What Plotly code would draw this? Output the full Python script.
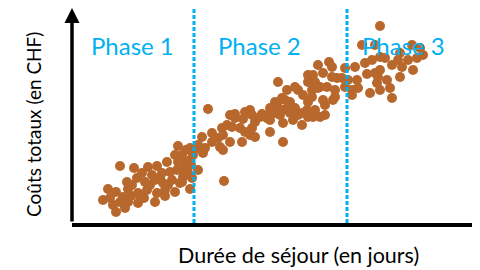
import plotly.graph_objects as go

# Durée de séjour (jours) and Coûts totaux (kCHF)
duree = [
    # Phase 1
    3.1, 3.6, 4.1, 4.4, 4.4, 4.8, 4.8, 5.1, 5.5, 5.6, 5.6, 6.2, 6.5, 6.6, 6.6, 7.0,
    7.3, 7.5, 7.6, 8.0, 8.3, 8.3, 8.5, 8.5, 9.0, 9.1, 9.3, 9.5, 9.8, 10.0, 10.3, 10.3,
    10.6, 10.8, 11.0, 11.1, 11.3, 11.8, 11.6, 11.8, 11.8, 11.0, 11.0, 12.1,
    6.0, 7.8, 8.8, 9.6, 10.5, 11.3, 6.8, 5.3, 3.8, 5.9, 7.2, 9.3, 10.6, 11.4, 11.9, 12.0,
    # Phase 2
    12.5, 12.6, 12.6, 13.0, 13.1, 13.3, 13.6, 14.0, 14.0, 14.6, 14.8, 15.0, 15.1, 15.1,
    15.2, 15.5, 15.8, 15.8, 16.0, 16.3, 16.3, 16.8, 17.0, 17.1, 17.3, 17.3, 17.6, 17.8,
    17.8, 18.0, 18.0, 18.3, 18.3, 18.8, 19.0, 19.5, 19.8, 19.8, 19.8, 19.8, 20.3, 20.3,
    20.5, 20.6, 20.8, 21.0, 21.1, 21.1, 21.1, 21.3, 21.5, 21.6, 21.8, 21.8, 22.1, 22.3,
    22.3, 22.6, 22.6, 23.0, 23.0, 23.1, 23.5, 23.6, 23.6, 23.6, 23.6, 24.0, 24.0, 24.1,
    24.1, 24.3, 24.3, 24.6, 24.6, 24.8, 24.8, 25.1, 25.1, 25.3, 25.3, 25.5, 25.7, 26.0,
    26.1, 26.3, 26.5, 27.0, 26.3, 26.0,
    # Phase 3
    27.3, 27.3, 27.6, 28.0, 28.0, 28.3, 28.5, 28.6, 29.0, 29.3, 29.5, 29.8, 30.0, 30.3,
    30.3, 30.5, 30.6, 30.8, 30.8, 30.8, 30.8, 31.3, 31.5, 31.8, 32.0, 32.0, 32.6, 32.8,
    32.8, 33.0, 33.6, 34.0, 34.1, 34.5, 34.8, 35.1,
]
couts = [
    # Phase 1
    2.5, 3.6, 2.0, 1.3, 3.3, 5.9, 2.3, 2.8, 4.3, 3.6, 2.3, 5.7, 4.7, 3.2, 2.2, 5.2,
    4.3, 3.5, 5.8, 5.0, 4.5, 2.3, 5.9, 3.2, 5.2, 4.2, 3.5, 6.3, 5.3, 4.5, 7.0, 3.3,
    7.9, 4.2, 7.0, 4.8, 6.3, 3.6, 5.2, 7.7, 6.5, 6.3, 4.3, 7.0,
    4.0, 4.0, 4.7, 4.0, 5.5, 5.5, 2.9, 1.7, 2.7, 2.9, 2.7, 2.9, 6.3, 7.5, 6.0, 4.7,
    # Phase 2
    7.7, 5.5, 8.0, 8.8, 7.2, 7.7, 11.6, 9.2, 8.3, 8.7, 7.8, 9.7, 9.0, 7.5,
    4.4, 10.0, 11.0, 8.3, 9.8, 11.1, 10.7, 9.7, 8.3, 10.6, 11.3, 9.3, 11.2, 11.5,
    9.0, 11.0, 9.7, 10.3, 8.8, 10.8, 11.1, 10.7, 11.7, 11.2, 10.5, 9.3, 12.3, 11.2,
    12.0, 14.3, 11.0, 12.7, 11.5, 10.2, 8.3, 12.5, 13.5, 11.7, 12.3, 11.2, 10.5, 13.8,
    11.7, 13.5, 11.0, 11.2, 10.0, 13.0, 11.5, 15.0, 14.3, 12.3, 10.8, 13.5, 12.8, 15.0,
    10.8, 14.3, 11.5, 16.0, 13.7, 13.8, 10.8, 15.2, 12.5, 12.0, 11.0, 13.8, 16.3, 15.8,
    12.5, 13.5, 14.7, 14.7, 12.8, 14.8,
    # Phase 3
    15.7, 13.8, 14.5, 13.5, 13.0, 15.8, 14.5, 13.7, 18.0, 16.2, 15.1, 13.2, 16.5, 18.0,
    15.2, 14.2, 14.8, 19.9, 16.8, 15.5, 13.5, 16.7, 14.5, 13.7, 16.0, 12.7, 16.5, 17.2,
    14.8, 15.8, 16.5, 18.0, 15.5, 16.7, 17.7, 17.0,
]

phase_labels = ["Phase 1", "Phase 2", "Phase 3"]
phase_bounds = [12.2, 27.5]          # limits between phases (jours)
x_label = "Durée de séjour (en jours)"
y_label = "Coûts totaux (en CHF)"

BROWN = "#B8682C"
CYAN = "#00B0F0"
FONT = "Lato"

fig = go.Figure()
fig.add_trace(go.Scatter(
    x=duree, y=couts, mode="markers",
    marker=dict(size=10, color=BROWN, line=dict(width=0)),
    hoverinfo="skip", showlegend=False,
))

for b in phase_bounds:
    fig.add_shape(type="line", xref="x", yref="paper", x0=b, x1=b, y0=0, y1=1,
                  line=dict(color=CYAN, width=3, dash="4px,2px"), layer="above")

label_x = [6.0, 18.7, 33.1]
for lab, lx in zip(phase_labels, label_x):
    fig.add_annotation(x=lx, y=18.0, xref="x", yref="y", text=lab, showarrow=False,
                       xanchor="center", yanchor="middle",
                       font=dict(family=FONT, size=24, color=CYAN))

# y axis with arrow head
fig.add_annotation(x=0, y=21.7, ax=0, ay=0.2, xref="x", yref="y", axref="x", ayref="y",
                   text="", showarrow=True, arrowhead=2, arrowwidth=3.5, arrowsize=0.86,
                   arrowcolor="black")

fig.add_annotation(x=0.554, y=-0.151, xref="paper", yref="paper", text=x_label,
                   xanchor="center", yanchor="middle", borderpad=0,
                   showarrow=False, font=dict(family=FONT, size=21.5, color="black"))
fig.add_annotation(x=-0.096, y=0.46, xref="paper", yref="paper", text=y_label,
                   xanchor="center", yanchor="middle",
                   textangle=-90, showarrow=False,
                   font=dict(family=FONT, size=19, color="black"))

# page body has an 8px margin: size the figure so the plot lands where the reference has it
fig.update_layout(
    width=472, height=262,
    margin=dict(l=64, r=0, t=0, b=47),
    paper_bgcolor="white", plot_bgcolor="white",
    xaxis=dict(range=[0, 40.8], showline=True, linewidth=4, linecolor="black",
               showgrid=False, zeroline=False, showticklabels=False, ticks=""),
    yaxis=dict(range=[0.2, 21.7], showline=False, showgrid=False, zeroline=False,
               showticklabels=False, ticks=""),
)

fig.write_html("out.html")
